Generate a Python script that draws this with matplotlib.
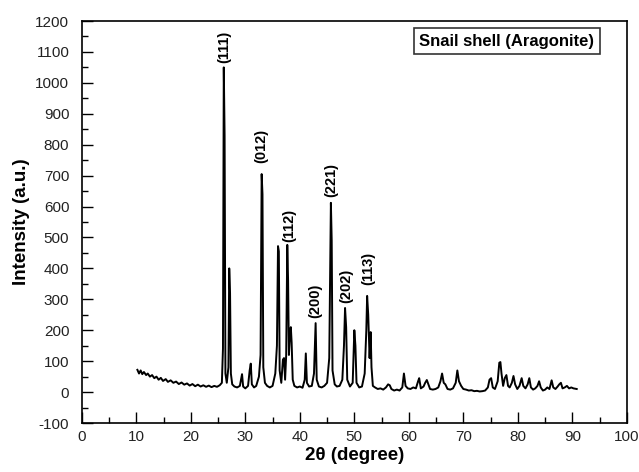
import matplotlib
matplotlib.use("Agg")
import matplotlib.pyplot as plt
from matplotlib.ticker import MultipleLocator

plt.rcParams['font.family'] = ['Liberation Sans', 'DejaVu Sans']
plt.rcParams['axes.unicode_minus'] = False

two_theta = [
    10.2, 10.5, 10.8, 11.1, 11.4, 11.8, 12.1, 12.5, 12.9, 13.3, 13.7, 14.1, 14.5, 14.9,
    15.4, 15.8, 16.3, 16.8, 17.3, 17.8, 18.3, 18.8, 19.3, 19.8, 20.3, 20.8, 21.3, 21.8,
    22.3, 22.8, 23.3, 23.8, 24.3, 24.8, 25.3, 25.7, 25.9, 26.05, 26.2, 26.35, 26.6, 26.9,
    27.05, 27.2, 27.35, 27.6, 28.0, 28.5, 29.0, 29.4, 29.6, 30.0, 30.5, 30.8, 31.0, 31.2,
    31.6, 32.0, 32.5, 32.8, 33.0, 33.15, 33.3, 33.6, 34.0, 34.5, 35.0, 35.5, 35.8, 36.0,
    36.15, 36.3, 36.6, 36.9, 37.1, 37.3, 37.5, 37.7, 37.85, 38.0, 38.2, 38.35, 38.5, 38.7,
    39.0, 39.5, 40.0, 40.5, 40.9, 41.1, 41.3, 41.7, 42.2, 42.6, 42.9, 43.1, 43.5, 44.0,
    44.5, 45.0, 45.4, 45.7, 45.85, 46.0, 46.4, 46.8, 47.3, 47.8, 48.1, 48.3, 48.5, 48.7,
    49.2, 49.7, 50.0, 50.2, 50.4, 50.9, 51.4, 51.9, 52.2, 52.35, 52.55, 52.8, 53.0, 53.15,
    53.4, 53.8, 54.3, 54.8, 55.3, 55.8, 56.2, 56.5, 56.8, 57.3, 57.8, 58.3, 58.8, 59.1,
    59.4, 59.8, 60.3, 60.8, 61.3, 61.7, 61.9, 62.2, 62.7, 63.0, 63.3, 63.6, 63.9, 64.4,
    64.9, 65.4, 65.8, 66.1, 66.4, 66.7, 67.1, 67.6, 68.1, 68.6, 68.9, 69.2, 69.6, 70.0,
    70.5, 71.0, 71.5, 72.0, 72.5, 73.0, 73.5, 74.0, 74.5, 74.8, 75.1, 75.4, 75.8, 76.3,
    76.6, 76.8, 77.0, 77.3, 77.6, 77.9, 78.2, 78.5, 78.9, 79.2, 79.5, 79.9, 80.3, 80.7,
    81.0, 81.4, 81.8, 82.1, 82.4, 82.8, 83.2, 83.6, 83.9, 84.2, 84.6, 85.0, 85.4, 85.8,
    86.2, 86.5, 86.9, 87.3, 87.6, 87.9, 88.2, 88.6, 89.0, 89.4, 89.8, 90.2, 90.8,
]
intensity = [
    72, 60, 70, 58, 65, 55, 60, 50, 55, 45, 50, 40, 46, 36,
    42, 33, 38, 30, 34, 26, 31, 24, 28, 21, 26, 19, 24, 18,
    22, 17, 21, 16, 20, 17, 22, 30, 140, 1050, 830, 60, 30, 80,
    400, 320, 60, 25, 18, 15, 20, 58, 18, 12, 20, 70, 92, 25,
    15, 20, 50, 120, 705, 640, 80, 30, 20, 15, 20, 60, 150, 472,
    455, 70, 30, 105, 110, 40, 120, 476, 360, 120, 190, 210, 160, 40,
    20, 15, 18, 14, 40, 125, 30, 18, 20, 60, 223, 40, 18, 15,
    20, 30, 110, 612, 490, 70, 25, 18, 20, 40, 150, 272, 210, 40,
    18, 30, 200, 150, 30, 15, 18, 60, 200, 311, 250, 110, 194, 80,
    20, 15, 10, 12, 8, 15, 25, 22, 10, 5, 8, 5, 15, 60,
    20, 12, 10, 15, 12, 35, 45, 12, 18, 30, 39, 25, 10, 8,
    10, 15, 35, 60, 30, 25, 10, 8, 12, 30, 70, 35, 20, 10,
    8, 5, 6, 3, 4, 2, 3, 5, 15, 40, 45, 15, 10, 35,
    95, 97, 60, 20, 45, 55, 20, 15, 30, 52, 25, 10, 20, 45,
    20, 12, 25, 45, 15, 8, 12, 20, 35, 15, 5, 8, 15, 10,
    38, 15, 10, 18, 25, 30, 12, 15, 20, 12, 15, 12, 10,
]

peak_labels = ["(111)", "(012)", "(112)", "(200)", "(221)", "(202)", "(113)"]
label_x = [26.05, 33.0, 38.0, 42.8, 45.7, 48.6, 52.5]
label_y = [1065, 741, 485, 240, 631, 288, 346]

x_ticks = list(range(0, 101, 10))
y_ticks = list(range(-100, 1201, 100))

fig = plt.figure(figsize=(6.39, 4.72), dpi=100)
ax = fig.add_axes([0.128, 0.1038, 0.853, 0.8517])

ax.plot(two_theta, intensity, color='black', linewidth=1.4)

for lab, lx, ly in zip(peak_labels, label_x, label_y):
    ax.text(lx, ly, lab, rotation=90, ha='center', va='bottom',
            fontsize=10.5, fontweight='bold')

ax.set_xlim(0, 100)
ax.set_ylim(-100, 1200)
ax.set_xticks(x_ticks)
ax.set_yticks(y_ticks)
ax.xaxis.set_minor_locator(MultipleLocator(5))
ax.yaxis.set_minor_locator(MultipleLocator(50))
ax.tick_params(which='major', direction='in', length=8, width=1, labelsize=11,
               top=False, right=False, labelcolor='#222222')
ax.tick_params(which='minor', direction='in', length=4, width=1, top=False, right=False)
ax.tick_params(axis='x', pad=5)
ax.tick_params(axis='y', pad=9)
for s in ax.spines.values():
    s.set_linewidth(1.2)

ax.set_xlabel('2θ (degree)', fontsize=13.5, fontweight='bold', labelpad=2)
ax.set_ylabel('Intensity (a.u.)', fontsize=13.5, fontweight='bold', labelpad=4)

ax.text(0.780, 0.950, 'Snail shell (Aragonite)', transform=ax.transAxes,
        ha='center', va='center', fontsize=12, fontweight='bold',
        bbox=dict(boxstyle='square,pad=0.35', facecolor='white', edgecolor='#333333', linewidth=1.2))

fig.savefig('out.png', dpi=100)
